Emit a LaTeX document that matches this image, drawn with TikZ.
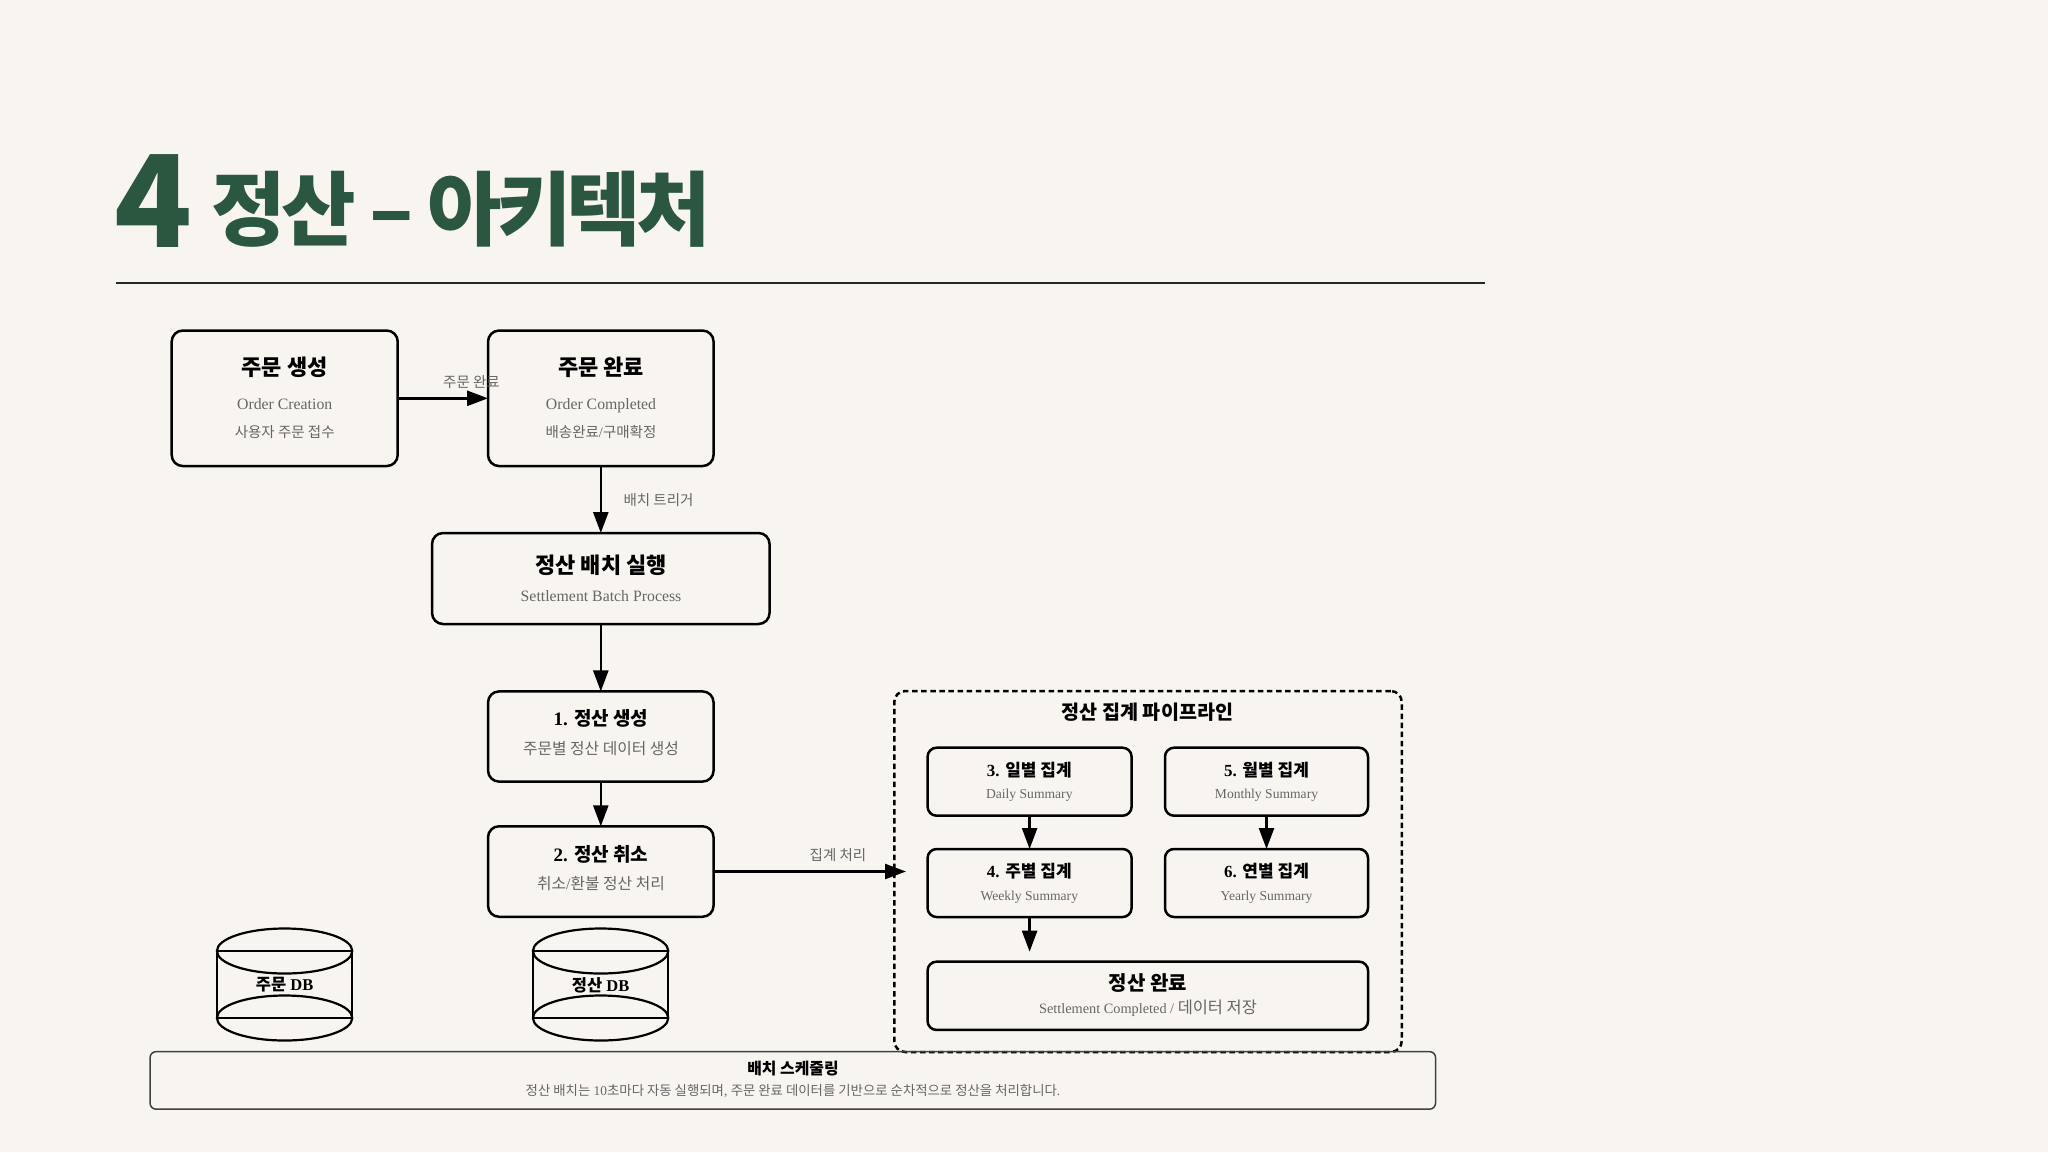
\documentclass[tikz,border=0pt]{standalone}
\usepackage{fontspec}
\usetikzlibrary{arrows.meta}
\setmainfont{Liberation Serif}
\newfontfamily\kr{Noto Sans CJK KR}
\newfontfamily\krblack[UprightFont={* Black},BoldFont={* Black}]{Noto Sans CJK KR}
\newcommand\K[1]{{\kr #1}}
\definecolor{paper}{HTML}{F8F5F0}
\definecolor{deepgreen}{HTML}{2B5741}
\definecolor{subgray}{HTML}{666666}
\newcommand\fs[1]{\fontsize{#1}{#1}\selectfont}
\tikzset{
  x=1pt,y=-1pt,
  boxn/.style={draw=black,line width=2.5pt,rounded corners=11pt,inner sep=0pt,outer sep=0pt,fill=none},
  smallbox/.style={draw=black,line width=2.5pt,rounded corners=9pt,inner sep=0pt,outer sep=0pt},
  txt/.style={inner sep=0pt,outer sep=0pt,anchor=center,align=center},
  bigt/.style={txt,font=\bfseries\fs{22}},
  medt/.style={txt,font=\bfseries\fs{19}},
  mint/.style={txt,font=\bfseries\fs{17}},
  sub/.style={txt,text=subgray,font=\fs{15.8}},
  subs/.style={txt,text=subgray,font=\fs{14.5}},
  subl/.style={txt,text=subgray,font=\fs{13.6}},
  edgelab/.style={txt,text=subgray,font=\fs{14.5}},
  conn/.style={draw=black,line width=2.5pt,-{Triangle[length=21pt,width=15pt]}},
  dbline/.style={draw=black,line width=2.2pt},
}
\begin{document}
\begin{tikzpicture}
\useasboundingbox (0,0) rectangle (2048,1152);
\fill[paper] (0,0) rectangle (2048,1152);
% title
\node[txt,text=deepgreen,font=\krblack\fs{128}] (num) at (153.5,201.5) {4};
\node[txt,anchor=west,text=deepgreen,font=\krblack\fs{81}\addfontfeature{LetterSpace=-6}] (head) at (211.5,209.5) {정산 – 아키텍처};
\coordinate (ruleL) at (115.5,283.3);
\coordinate (ruleR) at (1485,283.3);
\draw[line width=2pt,color=black!85] (ruleL) -- (ruleR);
% top row
\node[boxn,minimum width=226pt,minimum height=135.5pt] (b1) at (284.7,398.3) {};
\node[boxn,minimum width=225.5pt,minimum height=135.5pt] (b2) at (600.8,398.3) {};
\node[bigt] (b1t) at (284.7,367.5) {\K{주문 생성}};
\node[sub] (b1s) at (284.7,404) {Order Creation};
\node[subs] (b1k) at (284.7,432.5) {\K{사용자 주문 접수}};
\node[bigt] (b2t) at (601,367.5) {\K{주문 완료}};
\node[sub] (b2s) at (601,405.5) {Order Completed};
\node[subs] (b2k) at (601,432.5) {\K{배송완료}/\K{구매확정}};
\draw[conn] (b1) -- (b2);
\node[edgelab] (l1) at (471.5,382) {\K{주문 완료}};
% batch
\node[boxn,minimum width=337.5pt,minimum height=91pt] (batch) at (600.8,578.5) {};
\node[bigt] (batcht) at (601,565) {\K{정산 배치 실행}};
\node[sub] (batchs) at (601,596) {Settlement Batch Process};
\draw[conn] (b2) -- (batch);
\node[edgelab] (l2) at (658.5,500.5) {\K{배치 트리거}};
% steps
\node[boxn,minimum width=225.5pt,minimum height=90.2pt] (s1) at (600.8,736.5) {};
\node[medt] (s1t) at (601,718.5) {1. \K{정산 생성}};
\node[txt,text=subgray,font=\fs{15.8}] (s1s) at (601,748.5) {\K{주문별 정산 데이터 생성}};
\node[boxn,minimum width=225.5pt,minimum height=90.5pt] (s2) at (600.8,871.5) {};
\node[medt] (s2t) at (601,854) {2. \K{정산 취소}};
\node[txt,text=subgray,font=\fs{15.8}] (s2s) at (601,883.5) {\K{취소}/\K{환불 정산 처리}};
\draw[conn] (batch) -- (s1);
\draw[conn] (s1) -- (s2);
% databases
\foreach \nm/\cx/\lab in {dba/284.6/주문,dbb/600.6/정산}{
  \coordinate (\nm tl) at (\cx-67.7,951);
  \coordinate (\nm tr) at (\cx+67.7,951);
  \coordinate (\nm bl) at (\cx-67.7,1018);
  \coordinate (\nm br) at (\cx+67.7,1018);
  \draw[dbline] (\cx,951) ellipse [x radius=67.7,y radius=22.5];
  \draw[dbline] (\cx,1018) ellipse [x radius=67.7,y radius=22.5];
  \draw[dbline] (\nm tl) -- (\nm tr);
  \draw[dbline] (\nm bl) -- (\nm br);
  \draw[dbline] (\nm tl) -- (\nm bl);
  \draw[dbline] (\nm tr) -- (\nm br);
  \node[txt,font=\bfseries\fs{16.5}] (\nm t) at (\cx,985) {\K{\lab} DB};
}
% pipeline
\node[draw=black,line width=2.5pt,dash pattern=on 5.5pt off 3.6pt,rounded corners=11pt,minimum width=507.5pt,minimum height=361pt,inner sep=0pt,outer sep=0pt] (pipe) at (1148,871.5) {};
\node[txt,font=\bfseries\fs{19.6}] (pipet) at (1147.5,712.5) {\K{정산 집계 파이프라인}};
\node[smallbox,minimum width=204pt,minimum height=68pt] (d3) at (1029.6,781.7) {};
\node[smallbox,minimum width=203pt,minimum height=68pt] (d5) at (1266.5,781.7) {};
\node[smallbox,minimum width=204pt,minimum height=68pt] (d4) at (1029.6,883) {};
\node[smallbox,minimum width=203pt,minimum height=68pt] (d6) at (1266.5,883) {};
\node[smallbox,minimum width=440.5pt,minimum height=68.3pt] (done) at (1147.8,995.8) {};
\node[mint] (d3t) at (1029.3,770) {3. \K{일별 집계}};
\node[subl] (d3s) at (1029.3,795) {Daily Summary};
\node[mint] (d5t) at (1266.5,770) {5. \K{월별 집계}};
\node[subl] (d5s) at (1266.5,795) {Monthly Summary};
\node[mint] (d4t) at (1029.3,871.5) {4. \K{주별 집계}};
\node[subl] (d4s) at (1029.3,897) {Weekly Summary};
\node[mint] (d6t) at (1266.5,871.5) {6. \K{연별 집계}};
\node[subl] (d6s) at (1266.5,897) {Yearly Summary};
\node[txt,font=\bfseries\fs{20}] (donet) at (1148,983.5) {\K{정산 완료}};
\node[txt,text=subgray,font=\fs{14.3}] (dones) at (1148,1008) {Settlement Completed / {\fs{16.4}\K{데이터 저장}}};
\draw[conn] (d3) -- (d4);
\draw[conn] (d5) -- (d6);
\coordinate (d4end) at (1029.6,951.7);
\draw[conn] (d4) -- (d4end);
\coordinate (pipeend) at (906,871.5);
\draw[conn] (s2) -- (pipeend);
\node[edgelab] (l3) at (838,855) {\K{집계 처리}};
% scheduling
\node[draw=black!75,line width=1.5pt,rounded corners=6pt,minimum width=1285.5pt,minimum height=57.5pt,inner sep=0pt,outer sep=0pt] (sched) at (792.8,1080.4) {};
\node[txt,font=\bfseries\fs{15.9}] (schedt) at (793,1069) {\K{배치 스케줄링}};
\node[txt,text=subgray,font=\fs{13.4}] (scheds) at (793,1091) {\K{정산 배치는} 10\K{초마다 자동 실행되며}, \K{주문 완료 데이터를 기반으로 순차적으로 정산을 처리합니다}.};
\end{tikzpicture}
\end{document}
